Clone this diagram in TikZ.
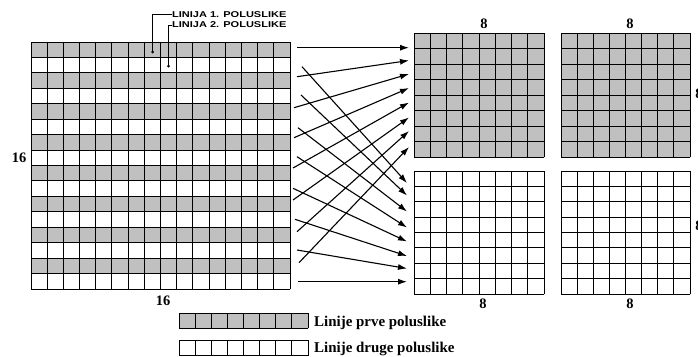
\documentclass[tikz,border=0pt]{standalone}
\usepackage{fontspec}
\usepackage{graphicx}
\setmainfont{Liberation Serif}
\newfontfamily\capfont[FakeStretch=1.3]{Liberation Sans}
\usetikzlibrary{arrows.meta}
\definecolor{cellgray}{RGB}{192,192,192}
\newcommand\mygrid[7]{%
  \ifcase#7\relax
  \or \fill[cellgray] (#1,#2) rectangle ++(#3,#4);
  \or \foreach \r in {1,3,...,#6}{\fill[cellgray] (#1,{#2+(\r-1)*#4/#6}) rectangle ({#1+#3},{#2+\r*#4/#6});}
  \fi
  \foreach \c in {0,...,#5}{\draw[gridline] ({#1+\c*#3/#5},#2) -- ++(0,#4);}
  \foreach \r in {0,...,#6}{\draw[gridline] (#1,{#2+\r*#4/#6}) -- ++(#3,0);}
}
\begin{document}
\begin{tikzpicture}[x=1bp,y=-1bp,
  gridline/.style={line width=0.9bp, draw=black, line cap=rect},
  lbl/.style={font=\fontsize{14.5}{16}\selectfont\bfseries, inner sep=0pt},
  legtext/.style={font=\fontsize{15}{17}\selectfont\bfseries, inner sep=0pt, anchor=base west},
  captext/.style={font=\capfont\bfseries\fontsize{8.5}{10}\selectfont, inner sep=0pt, anchor=west},
  leader/.style={line width=0.7bp},
  maparrow/.style={line width=1.1bp, -{Latex[length=9bp,width=6bp]}},
]
\useasboundingbox (0,0) rectangle (698,356);
% grids
\mygrid{31}{42}{259}{247}{16}{16}{2}
\draw[line width=1.8bp] (160.5,42) -- (160.5,289);
\draw[line width=1.6bp] (31,165.5) -- (290,165.5);
\mygrid{414}{33}{130}{124}{8}{8}{1}
\mygrid{561}{33}{129}{124}{8}{8}{1}
\mygrid{414}{171}{130}{123}{8}{8}{0}
\mygrid{561}{171}{129}{123}{8}{8}{0}
% legend
\mygrid{179}{313}{129}{15}{8}{1}{1}
\mygrid{179}{340.5}{129}{15}{8}{1}{0}
\node[legtext] (leg1) at (314,326) {Linije prve poluslike};
\node[legtext] (leg2) at (314,352.5) {Linije druge poluslike};
% size labels
\node[lbl] (l16a) at (19,157.7) {16};
\node[lbl] (l16b) at (163,301) {16};
\node[lbl] (l8a) at (484,24) {8};
\node[lbl] (l8b) at (630,24) {8};
\node[lbl] (l8c) at (483,304) {8};
\node[lbl] (l8d) at (630,304) {8};
\node[lbl] (l8e) at (699,94) {8};
\node[lbl] (l8f) at (699,226) {8};
% callouts
\node[captext] (c1) at (172,14.5) {LINIJA 1. POLUSLIKE};
\node[captext] (c2) at (172,25) {LINIJA 2. POLUSLIKE};
\coordinate (d1) at (152.7,52);
\coordinate (d2) at (168.5,66);
\draw[leader] (c1.west) -- (152.7,14.5) -- (d1);
\draw[leader] (c2.west) -- (168.5,25) -- (d2);
\fill (d1) circle (1.5);
\fill (d2) circle (1.5);
% arrow end points
\coordinate (g1s) at (297,47.7);   \coordinate (g1e) at (409,47.7);
\coordinate (g3s) at (297,76.7);   \coordinate (g3e) at (409,60.5);
\coordinate (g5s) at (294,107.7);  \coordinate (g5e) at (409,74);
\coordinate (g7s) at (294,137.7);  \coordinate (g7e) at (409,88);
\coordinate (g9s) at (293,168);    \coordinate (g9e) at (409,102.5);
\coordinate (g11s) at (293,200);   \coordinate (g11e) at (409,117.5);
\coordinate (g13s) at (297,231.7); \coordinate (g13e) at (409,131);
\coordinate (g15s) at (299,262.7); \coordinate (g15e) at (409,147);
\coordinate (w2s) at (302,66.7);   \coordinate (w2e) at (407,183);
\coordinate (w4s) at (301,95);     \coordinate (w4e) at (407,195.5);
\coordinate (w6s) at (298,127.7);  \coordinate (w6e) at (407,211.5);
\coordinate (w8s) at (297,156.7);  \coordinate (w8e) at (407,227.5);
\coordinate (w10s) at (293,188.3); \coordinate (w10e) at (407,241.5);
\coordinate (w12s) at (295,219.3); \coordinate (w12e) at (407,256);
\coordinate (w14s) at (297,250);   \coordinate (w14e) at (407,268.5);
\coordinate (w16s) at (298,281.7); \coordinate (w16e) at (407,281.7);
\foreach \k in {g1,g3,g5,g7,g9,g11,g13,g15,w2,w4,w6,w8,w10,w12,w14,w16}
  \draw[maparrow] (\k s) -- (\k e);
\end{tikzpicture}
\end{document}
